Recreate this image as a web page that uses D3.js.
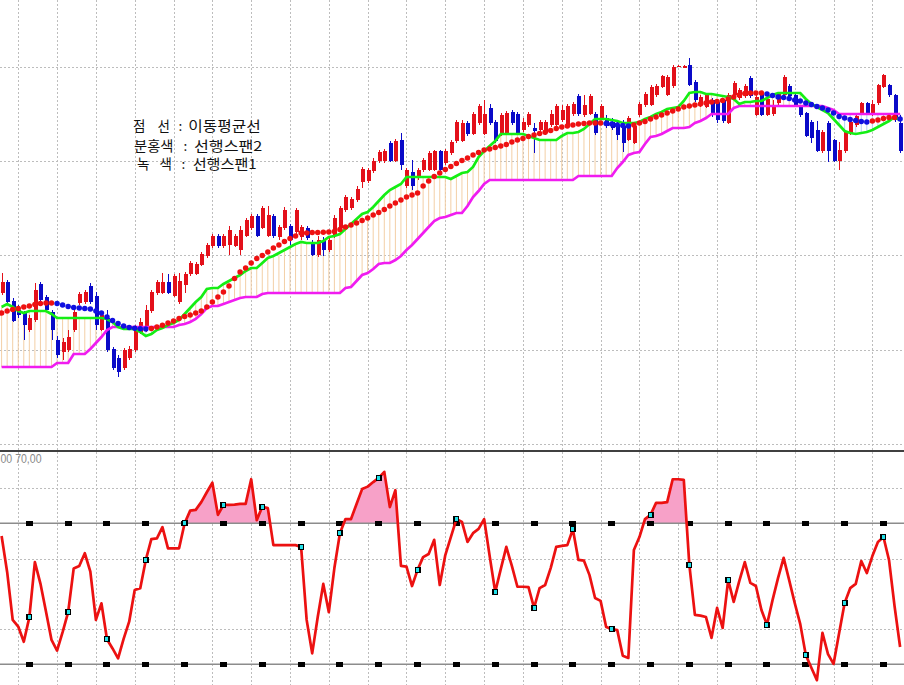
<!DOCTYPE html>
<html><head><meta charset="utf-8">
<script src="https://cdn.jsdelivr.net/npm/d3@7"></script>
<style>
html,body{margin:0;padding:0;background:#fff;overflow:hidden}
svg{display:block}
</style></head><body>
<svg id="chart" width="904" height="685"></svg>
<script>
// ---- data (price units, one entry per candle) ----
const open = [
207,218,199,190,187,170,180,216,203,188,
160,148,150,170,197,198,214,204,170,182,
151,142,132,142,150,168,173,189,207,207,
218,204,198,215,226,226,235,244,254,264,
254,255,254,250,264,272,284,272,264,284,
263,272,274,268,263,272,257,245,260,250,
264,272,290,292,300,318,319,329,339,339,
357,339,360,314,328,322,330,330,330,349,
337,347,359,359,377,366,377,366,392,378,
366,366,388,386,370,375,372,370,367,375,
375,380,375,386,404,385,386,386,382,382,
378,375,374,360,357,385,395,395,405,413,
405,414,433.5,433,435,418,395,393,400,398,
400,377,405,402,404,422,385,406,385,386,
397,405,414,405,393,387,378,370,349,377,
360,339,349,367,375,387,397,386,397,413,
415,405,377];
const high = [
227,220,202,195,189,185,217,218,205,190,
164,162,170,192,208,210,217,208,188,190,
153,145,152,154,175,182,195,210,220,227,
226,226,227,228,239,238,248,257,266,266,
266,274,266,274,282,286,286,294,294,286,
275,293,276,292,275,274,260,264,263,263,
285,294,305,303,314,333,332,342,350,351,
359,361,367,332,340,332,342,349,350,350,
351,360,380,380,379,388,396,400,396,380,
387,389,390,388,382,388,377,380,380,390,
396,395,396,398,406,405,406,388,396,385,
382,378,380,384,376,398,408,415,416,425,
425,435,435,435,442,420,405,406,402,400,
401,407,419,412,416,424,405,408,403,400,
408,425,416,408,395,388,380,379,370,379,
361,358,370,380,386,398,398,400,416,426,
416,406,385];
const low = [
205,196,178,182,160,168,178,198,189,160,
142,140,148,168,195,196,196,170,169,148,
130,123,130,140,148,166,168,187,205,206,
206,203,196,207,224,225,234,242,252,252,
252,245,253,245,263,270,263,271,263,262,
260,270,255,265,260,260,244,243,244,248,
262,271,288,290,298,312,317,327,337,337,
338,338,330,312,310,320,328,329,329,328,
335,345,357,358,364,365,375,365,375,357,
364,365,375,365,368,373,347,368,365,373,
374,378,374,384,384,383,385,365,380,372,
370,360,348,359,356,383,393,394,403,412,
404,412,433,433,414,398,393,392,383,377,
377,376,403,400,402,402,384,384,384,384,
395,404,402,393,383,363,357,348,347,338,
338,330,347,365,373,385,385,384,395,412,
403,378,347];
const close = [
218,198,179,185,175,182,210,200,190,170,
145,158,163,188,206,208,198,175,185,150,
132,128,150,151,172,178,190,208,218,218,
207,224,219,226,237,236,246,255,264,254,
264,270,264,270,280,284,264,292,285,264,
273,290,260,290,273,262,245,260,250,260,
282,292,303,301,311,331,330,339,348,349,
339,359,335,330,314,330,340,347,349,330,
349,358,378,377,366,386,394,386,377,359,
385,387,377,367,378,386,369,378,378,386,
394,390,394,396,386,395,404,367,394,374,
372,365,357,382,374,396,406,413,414,424,
423,433,434.5,434,415,400,403,405,385,380,
379,405,417,410,414,404,403,385,401,394,
406,423,404,395,385,364,362,349,368,349,
339,350,368,378,384,397,387,396,415,425,
405,380,349];
const span1 = [
193,196,193,189,187,189,189,189,189,186,
182,182,182,182,182,182,182,182,182,181,
178,173,171,171,171,168,164,166,170,172,
175,177,180,186,192,198,203,211,212,212,
216,219,222,225,229,232,232,237,242,244,
247,250,253,256,258,257,257,257,259,263,
264,266,271,276,281,286,288,293,299,305,
310,313,316,323,323,323,323,323,323,323,
323,321,324,327,328,333,343,349,354,359,
366,366,366,366,366,364,362,360,360,360,
360,364,367,367,368,371,376,381,381,381,
380,379,377,377,377,378,381,383,386,388,
391,392,393,399,407,408,408,406,406,405,
404,403,401,396,398,398,399,399,402,405,
407,407,407,407,407,401,396,393,390,387,
381,375,369,367,366,367,368,370,373,376,
379,383,380];
const span2 = [
133,133,133,133,133,133,133,133,133,133,
137,137,137,146,146,146,151,157,163,170,
173,173,173,173,173,173,173,173,173,173,
173,173,175,176,178,181,186,192,194,194,
196,198,200,202,203,203,203,206,207,207,
207,207,207,207,207,207,207,207,207,207,
207,207,212,213,219,225,227,231,236,237,
237,240,244,250,255,261,267,273,279,282,
283,285,287,287,294,303,309,316,320,320,
320,320,320,320,320,320,320,320,320,320,
320,320,320,320,324,324,324,324,324,324,
324,332,338,345,347,348,356,363,364,366,
369,372,372,372,373,377,379,382,386,386,
386,386,392,394,394,394,394,394,394,394,
394,394,394,394,394,394,394,394,394,392,
390,386,386,386,386,386,386,386,386,386,
386,386,386];
const movingAvg = [
187,189,190.5,191.5,193,194,195.5,196.5,197,197,
196.5,195,193.5,192.5,192,191.5,191,189,187,183,
179.5,176.5,174,172.5,171.7,171.2,171,171.5,173,174.7,
177,179,181.5,183.5,185,187,189,193,198,203,
208,214,221.5,228,232,237,241.5,244.5,248,252,
255,258.5,261.5,264,267,267,267.5,267.5,267.8,268,
268.5,270.5,273,275,277,279.5,282,285,287.5,290.5,
294,297,300,303,305,307,314,319,323.5,327,
330.5,333.5,336.5,339.5,342,345,347.5,350,351,352.5,
354,355.5,358,360,361.5,363.5,365,366.5,367.7,369.5,
371.5,373,374,375,376,376.5,377,377,377,376.5,
376,375,374.5,374,375,377,378.5,381,383,385,
387,389,391,393,394,395,396,397,398,398.5,
399.5,401,403,405,406.5,407,407,407,406,404.5,
403,402.5,401.5,400,399,397,395.5,393.5,392,390,
387,383.5,382,380.5,379.5,378.5,378,379,380,381.5,
382.5,382.5,381];
const oscillator = [
66.4,56.2,42.6,40.7,36.4,43.3,59.0,52.9,45.0,36.9,
33.9,39.1,44.8,57.2,57.9,61.5,56.3,42.6,47.3,37.1,
34.5,31.7,37.2,42.1,51.1,51.6,59.6,65.5,65.7,68.9,
62.9,62.9,62.9,70.0,73.6,73.8,76.0,78.8,81.5,72.4,
75.2,75.2,75.3,75.5,75.5,82.5,70.9,74.7,74.3,63.8,
63.8,63.8,63.8,63.8,63.3,42.6,33.1,43.4,52.8,44.8,
57.3,67.2,71.2,71.2,75.5,79.7,80.4,81.7,82.9,84.6,
74.6,79.4,57.9,57.7,52.2,56.8,60.4,61.3,65.3,52.5,
61.0,66.1,71.2,70.4,64.7,67.2,68.4,71.2,60.7,50.5,
57.0,63.3,57.9,52.0,52.0,51.9,46.0,51.6,52.5,57.3,
63.3,63.6,63.8,68.3,59.6,59.4,55.3,48.8,48.0,40.6,
40.0,39.7,32.4,31.8,62.4,66.1,71.2,72.4,75.8,75.8,
76.0,82.5,82.5,82.3,58.2,44.0,43.8,43.4,37.5,46.0,
40.3,53.9,47.7,53.6,59.0,53.1,52.2,45.4,41.2,48.2,
54.5,60.2,53.9,47.4,41.4,32.6,29.0,25.5,38.9,32.9,
30.1,38.8,47.4,51.6,52.8,59.3,55.9,60.7,64.7,66.1,
59.6,46.5,34.9];
const priceGrid = [56.3, 150.5, 244.7, 339, 433.3];
const oscGrid = [40, 60, 80];
const oscLevels = [30, 70];
const gridIndex = [3,10,17,24,31,38,45,52,59,66,73,80,87,94,101,108,115,122,129,136,143,150,157];
const markerIndex = [5,12,19,26,33,40,47,54,61,68,75,82,89,96,103,110,117,124,131,138,145,152,159];
const legendKeys = [["점","선"], ["분홍색"], ["녹","색"]];
const legendValues = ["이동평균선", "선행스팬2", "선행스팬1"];
const levelLabel = "00 70,00";

// ---- drawing ----
const W = 904, H = 685;
const svg = d3.select("#chart");
const n = close.length;
const x = d3.scaleLinear().domain([0, n - 1]).range([1.6, 900.1]);
const yP = d3.scaleLinear().domain([0, 500]).range([500, 0]);
const yO = d3.scaleLinear().domain([30, 70]).range([664.3, 523.3]);
const idx = d3.range(n);

const grid = svg.append("g").attr("stroke", "#bdbdbd").attr("stroke-dasharray", "2,2").attr("stroke-width", 1);
grid.selectAll(".vg").data(gridIndex).join("line")
  .attr("x1", d => Math.round(x(d)) + 0.5).attr("x2", d => Math.round(x(d)) + 0.5)
  .attr("y1", 0).attr("y2", H);
grid.selectAll(".hg").data(priceGrid).join("line")
  .attr("x1", 0).attr("x2", W)
  .attr("y1", d => Math.round(yP(d)) + 0.5).attr("y2", d => Math.round(yP(d)) + 0.5);
grid.selectAll(".og").data(oscGrid).join("line")
  .attr("x1", 0).attr("x2", W)
  .attr("y1", d => Math.round(yO(d)) + 0.5).attr("y2", d => Math.round(yO(d)) + 0.5);

// cloud
svg.append("g").selectAll("line").data(idx).join("line")
  .attr("x1", i => x(i)).attr("x2", i => x(i))
  .attr("y1", i => yP(span1[i])).attr("y2", i => yP(span2[i]))
  .attr("stroke", i => span1[i] >= span2[i] ? "#f3cfa6" : "#b4d2f2")
  .attr("stroke-width", 1);

// candles
const upC = "#e3101a", dnC = "#0a0ac8";
const cg = svg.append("g").attr("shape-rendering", "crispEdges");
cg.selectAll("line").data(idx).join("line")
  .attr("x1", i => Math.round(x(i)) + 0.5).attr("x2", i => Math.round(x(i)) + 0.5)
  .attr("y1", i => yP(high[i])).attr("y2", i => yP(low[i]))
  .attr("stroke", i => close[i] >= open[i] ? upC : dnC).attr("stroke-width", 1);
cg.selectAll("rect").data(idx).join("rect")
  .attr("x", i => Math.round(x(i)) - 1.5).attr("width", 4)
  .attr("y", i => yP(Math.max(open[i], close[i])))
  .attr("height", i => Math.max(1.5, Math.abs(yP(open[i]) - yP(close[i]))))
  .attr("fill", i => close[i] >= open[i] ? upC : dnC);

// spans
const lineP = arr => d3.line().x(i => x(i)).y(i => yP(arr[i]))(idx);
svg.append("path").attr("d", lineP(span2)).attr("fill", "none").attr("stroke", "#f01cf0").attr("stroke-width", 2.7);
svg.append("path").attr("d", lineP(span1)).attr("fill", "none").attr("stroke", "#14ee14").attr("stroke-width", 2.7);

// moving average dots
let prevCol = "#ee1111";
const maCol = idx.map(i => {
  if (i > 0 && movingAvg[i] < movingAvg[i - 1]) prevCol = "#1010e0";
  else if (i > 0 && movingAvg[i] > movingAvg[i - 1]) prevCol = "#ee1111";
  return prevCol;
});
svg.append("g").selectAll("circle").data(idx).join("circle")
  .attr("cx", i => x(i)).attr("cy", i => yP(movingAvg[i])).attr("r", 2.75)
  .attr("fill", i => maCol[i]);

// legend
const lg = svg.append("g").attr("font-family", "'Noto Sans CJK KR', sans-serif").attr("font-size", 13.5).attr("fill", "#111");
const rowY = [131, 150.5, 169];
const keyX = [[133, 157.5], [134], [137, 159.5]];
const keyLen = [null, 39.5, null];
const colonX = [180.5, 185.5, 183.5];
const valX = [188.3, 194, 192.7];
const valLen = [72.4, 68.3, 64];
legendKeys.forEach((parts, r) => {
  parts.forEach((t, k) => {
    const tx = lg.append("text").attr("x", keyX[r][k]).attr("y", rowY[r]).text(t);
    if (keyLen[r]) tx.attr("textLength", keyLen[r]).attr("lengthAdjust", "spacingAndGlyphs");
  });
  lg.append("text").attr("x", colonX[r]).attr("y", rowY[r]).attr("text-anchor", "middle").text(":");
  lg.append("text").attr("x", valX[r]).attr("y", rowY[r]).attr("textLength", valLen[r])
    .attr("lengthAdjust", "spacingAndGlyphs").text(legendValues[r]);
});

// ---- oscillator panel ----
const clipId = "above70";
svg.append("clipPath").attr("id", clipId).append("rect")
  .attr("x", 0).attr("y", 452).attr("width", W).attr("height", yO(70) - 452);
svg.append("path")
  .attr("d", d3.area().x(i => x(i)).y0(yO(70)).y1(i => yO(oscillator[i]))(idx))
  .attr("fill", "#f7a1c8").attr("clip-path", `url(#${clipId})`);

svg.append("g").selectAll("line").data(oscLevels).join("line")
  .attr("x1", 0).attr("x2", W)
  .attr("y1", d => yO(d)).attr("y2", d => yO(d))
  .attr("stroke", "#8c8c8c").attr("stroke-width", 1.6);

const lvl = svg.append("g").attr("fill", "#000").attr("shape-rendering", "crispEdges");
oscLevels.forEach(v => {
  lvl.selectAll(null).data(markerIndex).join("rect")
    .attr("x", i => x(i) - 3.5).attr("y", yO(v) - 2.5).attr("width", 7).attr("height", 5);
});

svg.append("path")
  .attr("d", d3.line().x(i => x(i)).y(i => yO(oscillator[i]))(idx))
  .attr("fill", "none").attr("stroke", "#ec1111").attr("stroke-width", 2.7)
  .attr("stroke-linejoin", "round");

const mk = svg.append("g").attr("shape-rendering", "crispEdges");
mk.selectAll("rect.b").data(markerIndex).join("rect")
  .attr("x", i => x(i) - 3).attr("y", i => yO(oscillator[i]) - 3).attr("width", 6).attr("height", 6)
  .attr("fill", "#000");
mk.selectAll("rect.c").data(markerIndex).join("rect")
  .attr("x", i => x(i) - 1.5).attr("y", i => yO(oscillator[i]) - 2).attr("width", 3).attr("height", 4)
  .attr("fill", "#22e0e8");

// divider and level label
svg.append("line").attr("x1", 0).attr("x2", W).attr("y1", 451).attr("y2", 451)
  .attr("stroke", "#000").attr("stroke-width", 1.5);
svg.append("text").attr("x", 0.5).attr("y", 463)
  .attr("font-family", "'Liberation Sans', Arial, sans-serif").attr("font-size", 13.5)
  .attr("fill", "#8a8a8a").attr("textLength", 41).attr("lengthAdjust", "spacingAndGlyphs")
  .text(levelLabel);
</script>
</body></html>
